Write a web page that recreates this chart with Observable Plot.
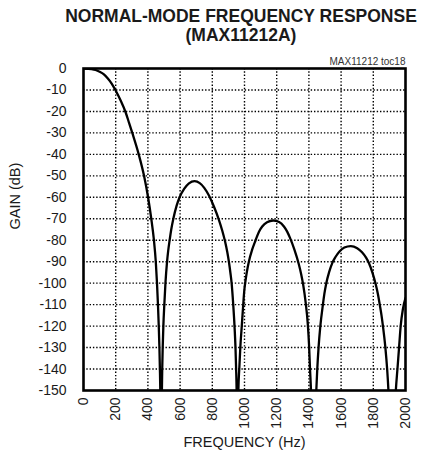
<!DOCTYPE html>
<html>
<head>
<meta charset="utf-8">
<script src="https://cdn.jsdelivr.net/npm/d3@7"></script>
<script src="https://cdn.jsdelivr.net/npm/@observablehq/plot@0.6"></script>
<style>
  html, body { margin: 0; padding: 0; background: #fff; }
  body { width: 439px; height: 461px; position: relative; overflow: hidden; }
  #title { position: absolute; left: 0; top: 7px; width: 482px; text-align: center;
           font-family: "Liberation Sans", Arial, sans-serif;
           font-weight: bold; font-size: 17.5px; line-height: 19px; color: #1a1a1a; }
  #chart { position: absolute; left: 0; top: 46px; }
</style>
</head>
<body>
<div id="title">NORMAL-MODE FREQUENCY RESPONSE<br>(MAX11212A)</div>
<div id="chart"></div>
<script>
// Frequency (Hz) and gain (dB)
const freqHz = [
  0, 50, 75, 100, 125, 150, 175, 198, 230, 262, 283, 303, 343, 376, 401, 421, 437.5, 449, 456.5, 462.5, 467.5, 471.5, 474.5, 477,
  482,
  487, 489, 492, 496, 502, 509, 519, 526, 535, 545, 558, 578, 597, 625, 655, 690, 722, 750, 780, 810, 841, 862, 879, 893, 904, 913, 920, 930, 938, 944, 948, 951,
  956,
  962, 967.5, 974, 983, 993, 998, 1006, 1015, 1027, 1048, 1069, 1090, 1110, 1140, 1178, 1215, 1245, 1265, 1282, 1310, 1337, 1352, 1364, 1380, 1393, 1401, 1407, 1413,
  1428,
  1446, 1452, 1460, 1471, 1487, 1496, 1508, 1525, 1547, 1565, 1590, 1620, 1660, 1700, 1730, 1755, 1772, 1795, 1815, 1830, 1840, 1851, 1860, 1868, 1875, 1886, 1894,
  1917,
  1940, 1950, 1960, 1970, 1984, 2000
];
const gainDb = [
  0, -0.3, -0.7, -1.5, -2.6, -4.5, -7, -10, -14.8, -20.5, -25.3, -30, -40, -50, -60, -70, -80, -90, -100, -110, -120, -130, -140, -150,
  -200,
  -150, -140, -130, -120, -110, -100, -90, -85, -80, -75, -70, -64, -60, -56.1, -53.5, -52.5, -53.4, -55.6, -59.3, -64.3, -70.5, -75.6, -80.5, -85.5, -90.5, -95.5, -100, -110, -120, -130, -140, -150,
  -200,
  -150, -140, -130, -120, -109, -104, -99, -94.6, -90, -84.3, -80, -76, -73.6, -71.6, -70.8, -71.5, -73.6, -76, -78.8, -84.4, -91.1, -95.8, -100.5, -109.1, -119, -129, -140, -150,
  -200,
  -150, -140, -130, -120, -110, -105, -100, -95, -90.3, -87.8, -85.2, -83.4, -82.7, -83.7, -85.6, -88.1, -90.5, -95.2, -100.5, -105.6, -110, -115, -120, -125, -130, -140, -150,
  -200,
  -150, -140, -130, -120, -112, -107
];
const xTicks = [0, 200, 400, 600, 800, 1000, 1200, 1400, 1600, 1800, 2000];
const yTicks = [0, -10, -20, -30, -40, -50, -60, -70, -80, -90, -100, -110, -120, -130, -140, -150];
const xLabel = "FREQUENCY (Hz)";
const yLabel = "GAIN (dB)";
const note = "MAX11212 toc18";

const data = freqHz.map((f, i) => ({f, g: gainDb[i]}));
const font = "'Liberation Sans', Arial, sans-serif";

const chart = Plot.plot({
  width: 439,
  height: 415,
  marginTop: 22,
  marginLeft: 83,
  marginRight: 34,
  marginBottom: 71,
  style: {fontFamily: font, fontSize: "14px", color: "#1a1a1a", background: "white"},
  x: {domain: [0, 2000], ticks: xTicks, label: null},
  y: {domain: [-150, 0], ticks: yTicks, label: null},
  marks: [
    Plot.gridX(xTicks.slice(1, -1), {stroke: "black", strokeOpacity: 1, strokeWidth: 1.4, strokeDasharray: "1.4,1.9"}),
    Plot.gridY(yTicks.slice(1, -1), {stroke: "black", strokeOpacity: 1, strokeWidth: 1.4, strokeDasharray: "1.4,1.9"}),
    Plot.line(data, {x: "f", y: "g", stroke: "black", strokeWidth: 2.3, curve: "monotone-x", clip: true}),
    Plot.frame({stroke: "black", strokeWidth: 2.6}),
    Plot.axisX(xTicks, {tickSize: 0, tickPadding: 7, tickRotate: -90, label: null, fontSize: 14,
                        tickFormat: d => String(d)}),
    Plot.axisY(yTicks, {tickSize: 0, tickPadding: 17, label: null, fontSize: 14,
                        tickFormat: d => String(d)}),
    Plot.text([xLabel], {frameAnchor: "bottom", dy: 56, fontSize: 14.5}),
    Plot.text([yLabel], {frameAnchor: "left", rotate: -90, dx: -68, fontSize: 14.5}),
    Plot.text([note], {frameAnchor: "top-right", dy: -4, textAnchor: "end", lineAnchor: "bottom",
                       fontSize: 10, fill: "#333"})
  ]
});
document.getElementById("chart").appendChild(chart);
</script>
</body>
</html>
